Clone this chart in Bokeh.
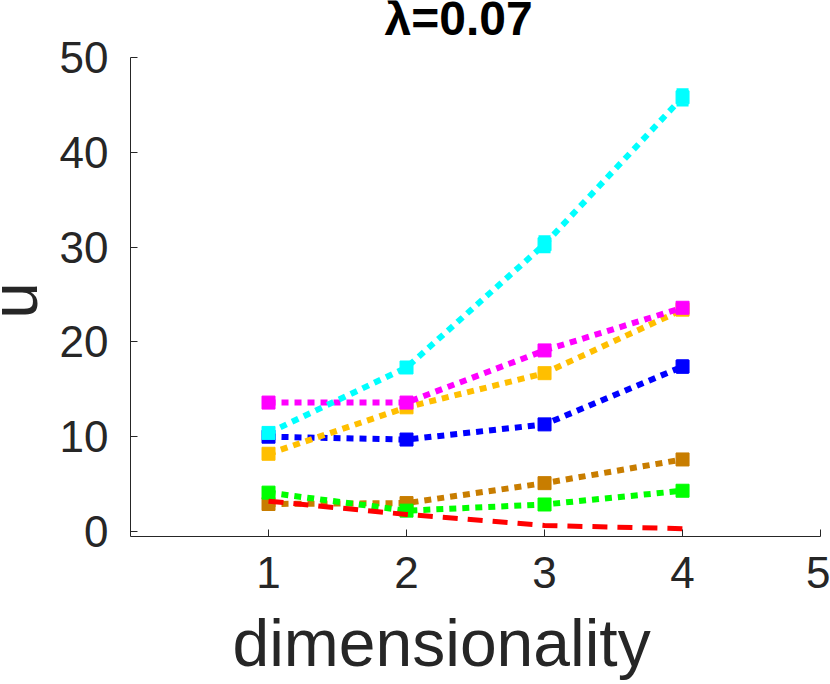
import math
from bokeh.plotting import figure
from bokeh.models import Range1d, FixedTicker, Label
from bokeh.embed import file_html
from bokeh.resources import INLINE

# ---- data ----
dims = [1, 2, 3, 4]
x_ticks = [1, 2, 3, 4, 5]
y_ticks = [0, 10, 20, 30, 40, 50]

u_brown = [2.9, 3.0, 5.1, 7.6]
e_brown = [0.25, 0.3, 0.4, 0.5]
u_green = [4.1, 2.2, 2.85, 4.3]
e_green = [0.2, 0.2, 0.2, 0.2]
u_blue = [10.0, 9.7, 11.3, 17.4]
e_blue = [0.3, 0.3, 0.4, 0.6]
u_orange = [8.2, 13.1, 16.7, 23.4]
e_orange = [0.3, 0.3, 0.4, 0.3]
u_magenta = [13.6, 13.6, 19.1, 23.6]
e_magenta = [0.3, 0.3, 0.4, 0.4]
u_cyan = [10.4, 17.3, 30.3, 45.8]
e_cyan = [0.3, 0.4, 0.8, 0.8]
u_red = [3.2, 1.8, 0.63, 0.3]

title_text = "λ=0.07"
x_label = "dimensionality"
y_label = "u"

series = [
    (u_brown, e_brown, "#C87D00"),
    (u_green, e_green, "#00FF00"),
    (u_blue, e_blue, "#0000FF"),
    (u_orange, e_orange, "#FFBF00"),
    (u_magenta, e_magenta, "#FF00FF"),
    (u_cyan, e_cyan, "#00FFFF"),
]

FONT = "Liberation Sans"
AX = "#262626"

# ---- layout: the frame fills the whole canvas, axes are pinned inside it ----
W, H = 830, 684
X_RANGE = (-0.942, 5.072)
Y_RANGE = (-16.139, 56.013)
X_AXIS_AT = -0.527          # axis line sits just below u = 0
Y_AXIS_AT = 0.0

p = figure(width=W, height=H, output_backend="svg", toolbar_location=None,
           x_range=Range1d(*X_RANGE), y_range=Range1d(*Y_RANGE),
           min_border_left=0, min_border_right=0, min_border_top=0,
           min_border_bottom=0)
p.outline_line_color = None
p.grid.visible = False
p.background_fill_color = "white"
p.border_fill_color = "white"

for ys, es, col in series:
    p.line(dims, ys, line_color=col, line_width=6, line_dash="7 6")
    lo = [y - e for y, e in zip(ys, es)]
    hi = [y + e for y, e in zip(ys, es)]
    p.segment(dims, lo, dims, hi, line_color=col, line_width=4)
    p.scatter(dims, lo, marker="dash", size=12, line_color=col, line_width=3)
    p.scatter(dims, hi, marker="dash", size=12, line_color=col, line_width=3)
    p.scatter(dims, ys, marker="square", size=13, fill_color=col, line_color=col)

p.line(dims, u_red, line_color="#FF0000", line_width=5, line_dash="15 10")

for ax in (p.xaxis[0], p.yaxis[0]):
    ax.axis_line_color = AX
    ax.major_tick_line_color = AX
    ax.major_tick_in = 7
    ax.major_tick_out = 0
    ax.minor_tick_line_color = None
    ax.major_label_text_font = FONT
    ax.major_label_text_font_size = "44px"
    ax.major_label_text_color = AX

p.xaxis.ticker = FixedTicker(ticks=x_ticks)
p.yaxis.ticker = FixedTicker(ticks=y_ticks)
p.xaxis.fixed_location = X_AXIS_AT
p.yaxis.fixed_location = Y_AXIS_AT
p.xaxis.bounds = (Y_AXIS_AT, x_ticks[-1])
p.yaxis.bounds = (X_AXIS_AT, y_ticks[-1])
p.xaxis.major_label_standoff = 21
p.yaxis.major_label_standoff = 22

title = Label(x=2.377, y=54.1, text=title_text, text_font=FONT, text_font_style="bold",
              text_font_size="48px", text_align="center", text_baseline="alphabetic",
              text_color="black")
p.add_layout(title)

xlab = Label(x=2.254, y=-11.75, text=x_label, text_font=FONT, text_font_size="66px",
             text_align="center", text_baseline="alphabetic", text_color=AX)
p.add_layout(xlab)

ylab = Label(x=-0.845, y=24.37, text=y_label, angle=math.pi / 2, text_font=FONT,
             text_font_size="66px", text_align="center", text_baseline="alphabetic",
             text_color=AX)
p.add_layout(ylab)

open("out.html", "w").write(file_html(p, INLINE))
